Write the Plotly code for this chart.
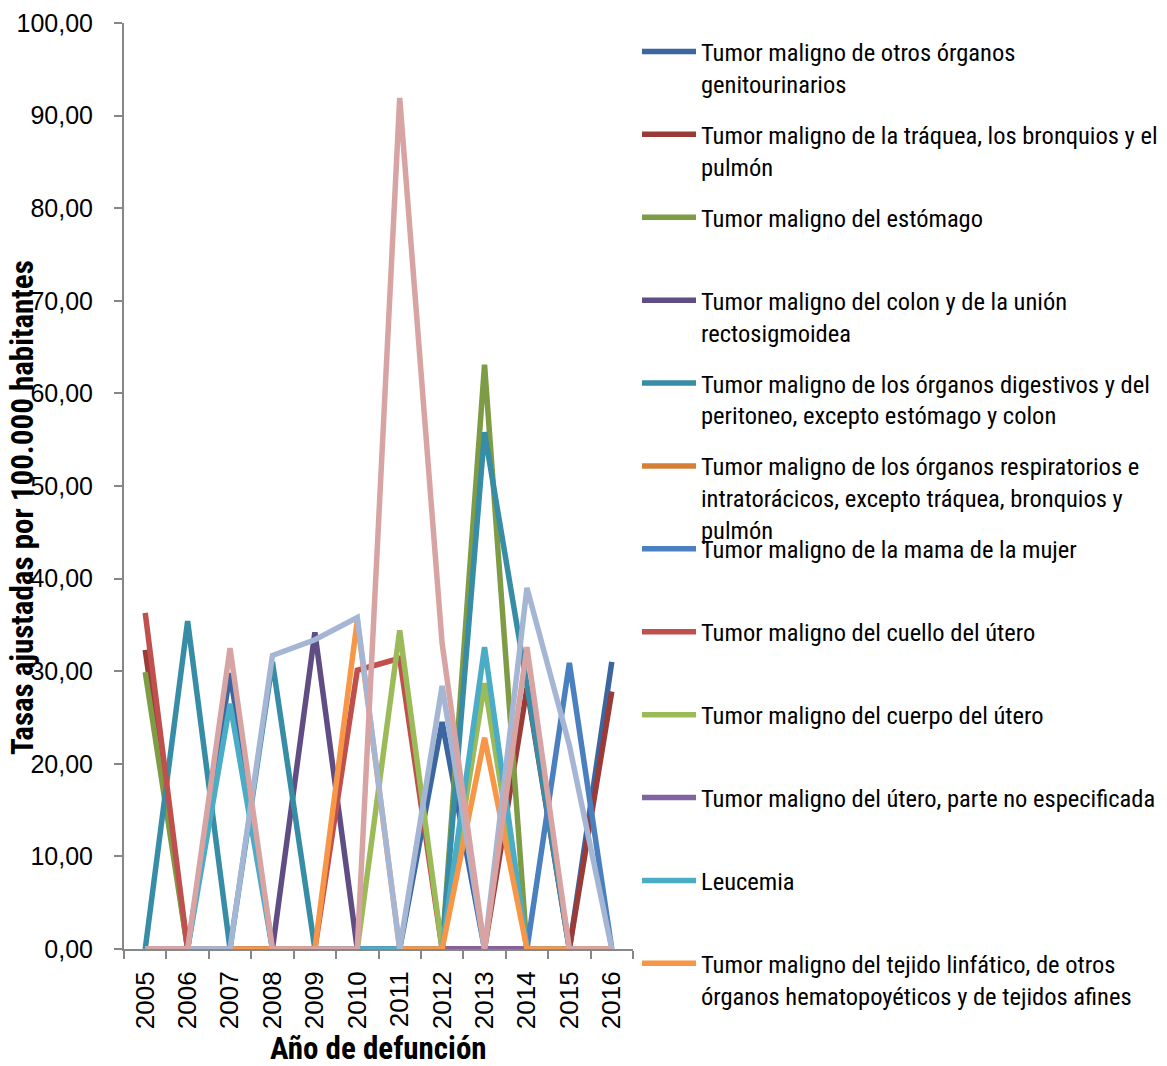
import plotly.graph_objects as go

# Años de defunción (eje X)
years = ["2005", "2006", "2007", "2008", "2009", "2010",
         "2011", "2012", "2013", "2014", "2015", "2016"]

# Tasas ajustadas por 100.000 habitantes, una lista por causa
genitourinarios = [0, 0, 29.8, 0, 0, 0, 0, 24.5, 0, 0, 0, 31.0]
traquea_pulmon = [32.3, 0, 0, 0, 0, 0, 0, 0, 0, 28.2, 0, 27.8]
estomago = [29.9, 0, 0, 0, 0, 0, 0, 0, 63.1, 0, 0, 0]
colon = [0, 0, 0, 0, 34.2, 0, 0, 0, 0, 0, 0, 0]
digestivos = [0, 35.4, 0, 31.0, 0, 0, 0, 0, 55.8, 28.5, 0, 0]
respiratorios = [0, 0, 0, 0, 0, 0, 0, 0, 0, 0, 0, 0]
mama = [0, 0, 0, 0, 0, 0, 0, 0, 0, 0, 30.9, 0]
cuello_utero = [36.3, 0, 0, 0, 0, 30.1, 31.4, 0, 0, 0, 0, 0]
cuerpo_utero = [0, 0, 0, 0, 0, 0, 34.4, 0, 28.7, 0, 0, 0]
utero_ne = [0, 0, 0, 0, 0, 0, 0, 0, 0, 0, 0, 0]
leucemia = [0, 0, 26.5, 0, 0, 0, 0, 0, 32.6, 0, 0, 0]
linfatico = [0, 0, 0, 0, 0, 35.5, 0, 0, 22.8, 0, 0, 0]
encefalo = [0, 0, 0, 31.7, 33.4, 35.8, 0, 28.4, 0, 39.0, 22.0, 0]
otros_sitios = [0, 0, 32.5, 0, 0, 0, 91.9, 33.0, 0, 32.6, 0, 0]

series = [
    ("Tumor maligno de otros órganos<br>genitourinarios", genitourinarios, "#3B66A0", True),
    ("Tumor maligno de la tráquea, los bronquios y el<br>pulmón", traquea_pulmon, "#9B3B38", True),
    ("Tumor maligno del estómago", estomago, "#7E9B45", True),
    ("Tumor maligno del colon y de la unión<br>rectosigmoidea", colon, "#604D83", True),
    ("Tumor maligno de los órganos digestivos y del<br>peritoneo, excepto estómago y colon", digestivos, "#378DA5", True),
    ("Tumor maligno de los órganos respiratorios e<br>intratorácicos, excepto tráquea, bronquios y<br>pulmón", respiratorios, "#D57F36", True),
    ("Tumor maligno de la mama de la mujer", mama, "#4A7FC0", True),
    ("Tumor maligno del cuello del útero", cuello_utero, "#C0504D", True),
    ("Tumor maligno del cuerpo del útero", cuerpo_utero, "#9BBB59", True),
    ("Tumor maligno del útero, parte no especificada", utero_ne, "#7F63A3", True),
    ("Leucemia", leucemia, "#4BACC6", True),
    ("Tumor maligno del tejido linfático, de otros<br>órganos hematopoyéticos y de tejidos afines", linfatico, "#F79646", True),
    ("Tumor maligno del encéfalo", encefalo, "#A5B6D5", False),
    ("Tumor maligno de otros sitios", otros_sitios, "#D7A4A3", False),
]

NARROW = "Liberation Sans Narrow, Arial Narrow, Roboto Condensed, DejaVu Sans Condensed, sans-serif"
REGULAR = "Liberation Sans, Arial, sans-serif"

W, H = 1167, 1066
L, R, T, B = 124, 534, 23, 117
plot_w = W - L - R
plot_h = H - T - B

fig = go.Figure()
legend_layouts = {}
slot = 0
for name, values, color, in_legend in series:
    key = None
    if in_legend:
        key = "legend" if slot == 0 else f"legend{slot + 1}"
        # first text line centre of each legend entry, in pixels
        cy = 53 + slot * 82.9
        legend_layouts[key] = dict(
            x=(637 - L) / plot_w,
            y=(H - B - (cy - 24)) / plot_h,
            xanchor="left", yanchor="top",
            valign="top",
            itemwidth=54,
            bgcolor="rgba(0,0,0,0)",
            borderwidth=0,
            font=dict(family=NARROW, size=24.5, color="#000000"),
        )
        slot += 1
    fig.add_trace(go.Scatter(
        x=years, y=values, name=name, mode="lines",
        line=dict(color=color, width=5.5),
        showlegend=in_legend,
        legend=key if key else "legend",
        cliponaxis=False,
        hoverinfo="x+y+name",
    ))

fig.update_layout(
    width=W, height=H,
    margin=dict(l=L, r=R, t=T, b=B, autoexpand=False),
    paper_bgcolor="#FFFFFF", plot_bgcolor="#FFFFFF",
    separators=",.",
    **legend_layouts,
)

fig.update_xaxes(
    type="category",
    range=[-0.5, 11.5],
    showgrid=False, zeroline=False,
    showline=True, linecolor="#878787", linewidth=2,
    ticks="outside", tickson="boundaries", ticklen=8, tickwidth=2, tickcolor="#878787",
    tickangle=-90,
    tickfont=dict(family=REGULAR, size=26, color="#000000"),
    ticklabelstandoff=10,
)
fig.update_yaxes(
    range=[0, 100], dtick=10, tickformat=".2f",
    showgrid=False, zeroline=False,
    showline=True, linecolor="#878787", linewidth=2,
    ticks="outside", ticklen=8, tickwidth=2, tickcolor="#878787",
    tickfont=dict(family=REGULAR, size=25, color="#000000"),
    ticklabelstandoff=16,
)

fig.add_annotation(
    text="<b>Tasas ajustadas por 100.000 habitantes</b>",
    xref="paper", yref="paper",
    x=(22 - L) / plot_w, y=(H - B - 508) / plot_h,
    xanchor="center", yanchor="middle",
    textangle=-90, showarrow=False,
    font=dict(family=NARROW, size=31, color="#000000"),
)
fig.add_annotation(
    text="<b>Año de defunción</b>",
    xref="paper", yref="paper",
    x=0.5, y=(H - B - 1048) / plot_h,
    xanchor="center", yanchor="middle",
    showarrow=False,
    font=dict(family=NARROW, size=31, color="#000000"),
)

fig.write_html("out.html")
